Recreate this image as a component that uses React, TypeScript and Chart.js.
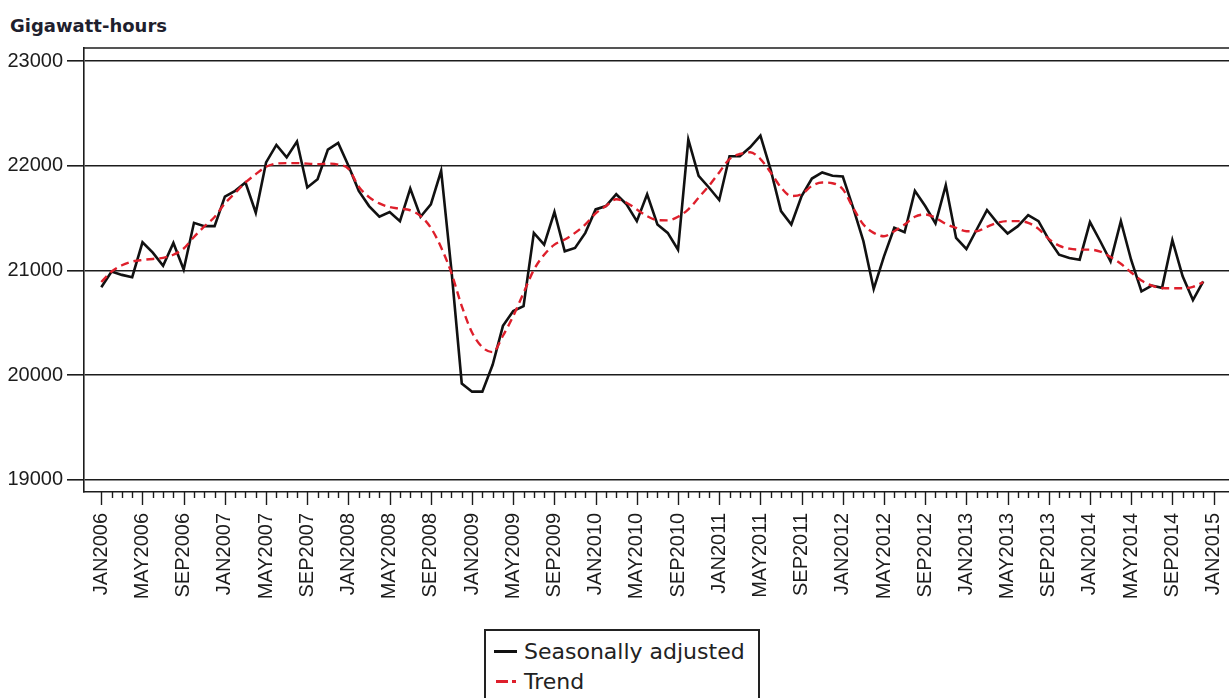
import React, { useEffect, useRef } from 'react';
import { Chart, registerables } from 'chart.js';

Chart.register(...registerables);

// Tick labels along the month axis (one every four months), JAN2006 .. JAN2015
const xTickLabels = [
  'JAN2006', 'MAY2006', 'SEP2006', 'JAN2007', 'MAY2007', 'SEP2007',
  'JAN2008', 'MAY2008', 'SEP2008', 'JAN2009', 'MAY2009', 'SEP2009',
  'JAN2010', 'MAY2010', 'SEP2010', 'JAN2011', 'MAY2011', 'SEP2011',
  'JAN2012', 'MAY2012', 'SEP2012', 'JAN2013', 'MAY2013', 'SEP2013',
  'JAN2014', 'MAY2014', 'SEP2014', 'JAN2015',
];
const monthsPerLabel = 4;
const monthCount = 109; // JAN2006 .. JAN2015 inclusive

const yTicks = [19000, 20000, 21000, 22000, 23000];

// Monthly values, JAN2006 .. DEC2014 (gigawatt-hours)
const seasonallyAdjusted = [
  20840, 20990, 20958, 20936, 21269, 21170, 21045, 21263, 21010, 21455, 21423, 21423,
  21705, 21760, 21840, 21551, 22032, 22199, 22080, 22231, 21792, 21872, 22154, 22218,
  22000, 21760, 21615, 21513, 21558, 21471, 21782, 21513, 21631, 21952, 21000, 19921,
  19843, 19843, 20100, 20471, 20613, 20660, 21359, 21247, 21558, 21183, 21215, 21359,
  21583, 21615, 21728, 21631, 21471, 21728, 21439, 21359, 21199, 22250, 21904, 21792,
  21673, 22090, 22090, 22176, 22288, 21960, 21567, 21439, 21711, 21878, 21936, 21904,
  21897, 21600, 21280, 20824, 21135, 21407, 21365, 21760, 21615, 21449, 21814, 21311,
  21205, 21391, 21577, 21455, 21353, 21423, 21529, 21471, 21295, 21151, 21119, 21103,
  21462, 21279, 21087, 21471, 21100, 20800, 20856, 20834, 21289, 20944, 20718, 20897,
];

const trend = [
  20890, 20990, 21050, 21085, 21100, 21110, 21120, 21150, 21210, 21320, 21420, 21510,
  21640, 21740, 21840, 21920, 21990, 22020, 22025, 22025, 22020, 22015, 22020, 22010,
  21970, 21800, 21700, 21640, 21605, 21590, 21575, 21520, 21407, 21220, 20975, 20660,
  20408, 20267, 20220, 20377, 20565, 20785, 21006, 21150, 21247, 21295, 21359, 21439,
  21545, 21615, 21680, 21647, 21583, 21519, 21481, 21478, 21513, 21583, 21695, 21808,
  21936, 22064, 22112, 22128, 22064, 21936, 21792, 21711, 21728, 21808, 21840, 21833,
  21776, 21599, 21439, 21359, 21327, 21375, 21439, 21513, 21535, 21503, 21445, 21407,
  21375, 21375, 21417, 21455, 21471, 21471, 21455, 21397, 21301, 21237, 21208, 21199,
  21199, 21180, 21128, 21064, 20981, 20904, 20856, 20833, 20830, 20830, 20843, 20888,
];

const INK = '#1c1c1c';
const RED = '#de1f2b';
const TICK_FONT = { family: '"Liberation Sans", Arial, sans-serif', size: 20 };

const framePlugin = {
  id: 'frame',
  afterDraw(chart: any) {
    const { ctx, chartArea, scales } = chart;
    const xs = scales.x;
    ctx.save();
    ctx.strokeStyle = INK;
    ctx.lineWidth = 1.6;
    ctx.beginPath();
    ctx.moveTo(chartArea.left, chartArea.top);
    ctx.lineTo(chartArea.right, chartArea.top);
    ctx.stroke();
    ctx.lineWidth = 1.4;
    for (let i = 0; i < monthCount; i++) {
      const x = Math.round(xs.getPixelForValue(i)) + 0.5;
      const len = i % monthsPerLabel === 0 ? 13 : 6;
      ctx.beginPath();
      ctx.moveTo(x, chartArea.bottom);
      ctx.lineTo(x, chartArea.bottom + len);
      ctx.stroke();
    }
    ctx.restore();
  },
};

export default function App() {
  const canvasRef = useRef<HTMLCanvasElement | null>(null);

  useEffect(() => {
    const canvas = canvasRef.current;
    if (!canvas) return;
    const chart = new Chart(canvas, {
      type: 'line',
      data: {
        datasets: [
          {
            label: 'Trend',
            data: trend.map((y, i) => ({ x: i, y })),
            borderColor: RED,
            borderWidth: 2.4,
            borderDash: [8, 5],
            pointRadius: 0,
            cubicInterpolationMode: 'monotone',
            order: 0,
          },
          {
            label: 'Seasonally adjusted',
            data: seasonallyAdjusted.map((y, i) => ({ x: i, y })),
            borderColor: '#111',
            borderWidth: 2.6,
            pointRadius: 0,
            tension: 0,
            order: 1,
          },
        ],
      },
      options: {
        animation: false,
        responsive: false,
        devicePixelRatio: 1,
        layout: { padding: { top: 48, left: 0, right: 0, bottom: 0 } },
        plugins: {
          legend: { display: false },
          tooltip: { enabled: false },
          title: { display: false },
        },
        scales: {
          x: {
            type: 'linear',
            min: -1.68,
            max: 109.5,
            grid: { display: false, drawTicks: false },
            border: { display: true, color: INK, width: 1.6 },
            afterBuildTicks: (s: any) => {
              s.ticks = xTickLabels.map((_, k) => ({ value: k * monthsPerLabel }));
            },
            afterFit: (s: any) => {
              s.height = 206;
              s.paddingLeft = 0;
              s.paddingRight = 0;
            },
            ticks: {
              autoSkip: false,
              minRotation: 90,
              maxRotation: 90,
              padding: 21,
              color: INK,
              font: TICK_FONT,
              callback: (v: any) => xTickLabels[Math.round(Number(v) / monthsPerLabel)] ?? '',
            },
          },
          y: {
            type: 'linear',
            min: 18885,
            max: 23124,
            afterBuildTicks: (s: any) => {
              s.ticks = yTicks.map((v) => ({ value: v }));
            },
            afterFit: (s: any) => {
              s.width = 84;
              s.paddingTop = 0;
              s.paddingBottom = 0;
            },
            grid: { color: INK, lineWidth: 1.6, drawTicks: true, tickLength: 17, tickColor: INK },
            border: { display: true, color: INK, width: 1.6 },
            ticks: {
              padding: 4,
              color: INK,
              font: TICK_FONT,
              callback: (v: any) => String(v),
            },
          },
        },
      },
      plugins: [framePlugin],
    } as any);
    return () => chart.destroy();
  }, []);

  return (
    <div
      style={{
        position: 'fixed',
        left: 0,
        top: 0,
        width: 1229,
        height: 698,
        background: '#fff',
        overflow: 'hidden',
      }}
    >
      <div
        style={{
          position: 'absolute',
          left: 10,
          top: 17,
          fontFamily: '"DejaVu Sans", Verdana, sans-serif',
          fontWeight: 'bold',
          fontSize: 18,
          lineHeight: '18px',
          color: '#1f1f2e',
          whiteSpace: 'nowrap',
        }}
      >
        Gigawatt-hours
      </div>
      <canvas ref={canvasRef} width={1229} height={698} style={{ position: 'absolute', left: 0, top: 0 }} />
      <div
        style={{
          position: 'absolute',
          left: 484,
          top: 629,
          width: 272,
          height: 90,
          border: '2px solid #222',
          background: '#fff',
          fontFamily: '"DejaVu Sans", Verdana, sans-serif',
          fontSize: 22,
          color: '#222',
        }}
      >
        <div style={{ position: 'absolute', left: 8, top: 19, width: 23, height: 3, background: '#111' }} />
        <div style={{ position: 'absolute', left: 38, top: 8, lineHeight: '26px', whiteSpace: 'nowrap' }}>
          Seasonally adjusted
        </div>
        <div style={{ position: 'absolute', left: 10, top: 49, width: 12, height: 3, background: RED }} />
        <div style={{ position: 'absolute', left: 26, top: 49, width: 4, height: 3, background: RED }} />
        <div style={{ position: 'absolute', left: 38, top: 38, lineHeight: '26px', whiteSpace: 'nowrap' }}>
          Trend
        </div>
      </div>
    </div>
  );
}
